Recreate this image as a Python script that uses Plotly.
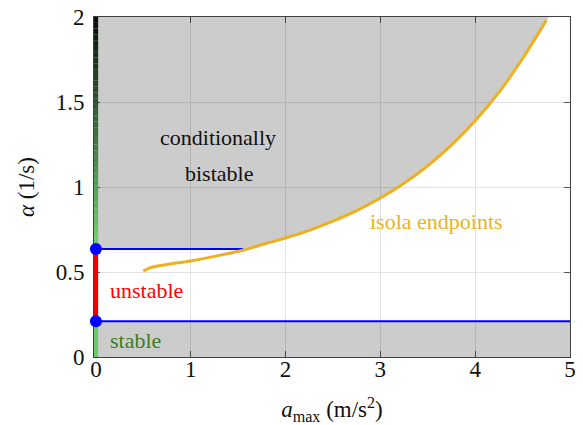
import numpy as np
import plotly.graph_objects as go

# ---- data ----
isola_x = [0.50, 0.55, 0.62, 0.80, 1.00, 1.25, 1.55, 1.80, 2.00, 2.25, 2.50, 2.75,
           3.00, 3.25, 3.50, 3.75, 4.00, 4.25, 4.50, 4.75]
isola_y = [0.505, 0.520, 0.532, 0.548, 0.565, 0.592, 0.628, 0.669, 0.700, 0.745, 0.799, 0.861,
           0.935, 1.022, 1.125, 1.246, 1.389, 1.557, 1.756, 1.980]
bistable_top_x = 4.78          # where the conditionally bistable region meets alpha = 2
alpha_low = 0.21               # stable / unstable boundary
alpha_high = 0.635             # unstable / conditionally bistable boundary
upper_line_end_x = 1.55        # upper blue line end
a_max_range = [-0.02, 5]
alpha_range = [0, 2]
x_ticks = [0, 1, 2, 3, 4, 5]
y_ticks = [0, 0.5, 1, 1.5, 2]
y_tick_labels = ["0", "0.5", "1", "1.5", "2"]

FONT = "Liberation Serif"
GRAY_FILL = "rgba(0,0,0,0.2)"
ORANGE = "#EDB120"
TXT = "#111111"

fig = go.Figure()

# lower stable region fill (gray) below the lower blue line
fig.add_trace(go.Scatter(x=[0, 5], y=[alpha_low, alpha_low],
                         mode="lines", line=dict(width=0), fill="tozeroy",
                         fillcolor=GRAY_FILL, hoverinfo="skip", showlegend=False))

# conditionally bistable region (above upper line, left of isola curve)
ix = np.array(isola_x)
iy = np.array(isola_y)
mask = ix >= upper_line_end_x
fx = [0, upper_line_end_x] + list(ix[mask]) + [bistable_top_x, 0, 0]
fy = [alpha_high, alpha_high] + list(iy[mask]) + [alpha_range[1], alpha_range[1], alpha_high]
fig.add_trace(go.Scatter(x=fx, y=fy, mode="lines", line=dict(width=0), fill="toself",
                         fillcolor=GRAY_FILL, hoverinfo="skip", showlegend=False))

# blue lines
fig.add_trace(go.Scatter(x=[0, 5], y=[alpha_low, alpha_low], mode="lines",
                         line=dict(color="#0000ff", width=2), showlegend=False))
fig.add_trace(go.Scatter(x=[0, upper_line_end_x], y=[alpha_high, alpha_high], mode="lines",
                         line=dict(color="#0000ff", width=2), showlegend=False))

# isola curve
fig.add_trace(go.Scatter(x=isola_x, y=isola_y, mode="lines",
                         line=dict(color=ORANGE, width=3, shape="spline", smoothing=0.8),
                         showlegend=False))

# stability along alpha axis at a_max = 0
fig.add_trace(go.Scatter(x=[0, 0], y=[0, alpha_low], mode="lines",
                         line=dict(color="#6cc86c", width=4.5), showlegend=False))
fig.add_trace(go.Scatter(x=[0, 0], y=[alpha_low, alpha_high], mode="lines",
                         line=dict(color="#ee0000", width=4.5), showlegend=False))
# green-to-black gradient rendering of the upper part
n_seg = 40
edges = np.linspace(alpha_high, alpha_range[1], n_seg + 1)
c0 = np.array([115, 210, 115])
c1 = np.array([10, 14, 10])
for i in range(n_seg):
    t = i / (n_seg - 1)
    c = (c0 * (1 - t) + c1 * t).astype(int)
    fig.add_trace(go.Scatter(x=[0, 0], y=[edges[i], edges[i + 1]], mode="lines",
                             line=dict(color=f"rgb({c[0]},{c[1]},{c[2]})", width=4.5),
                             hoverinfo="skip", showlegend=False))

# blue markers
fig.add_trace(go.Scatter(x=[0, 0], y=[alpha_low, alpha_high], mode="markers",
                         marker=dict(color="#0000ff", size=12), cliponaxis=False,
                         showlegend=False))

annotations = [
    dict(x=1.29, y=1.29, text="conditionally", font=dict(color=TXT, size=22)),
    dict(x=1.30, y=1.08, text="bistable", font=dict(color=TXT, size=22)),
    dict(x=0.13, y=0.39, text="unstable", xanchor="left", font=dict(color="#ff0000", size=22)),
    dict(x=0.13, y=0.10, text="stable", xanchor="left", font=dict(color="#3d7d1e", size=22)),
    dict(x=2.87, y=0.80, text="isola endpoints", xanchor="left", font=dict(color=ORANGE, size=22)),
]
for a in annotations:
    a.update(xref="x", yref="y", showarrow=False)
    a["font"]["family"] = FONT

axis_common = dict(showgrid=True, gridcolor="#e2e2e2", gridwidth=1, automargin=False,
                   showline=True, linecolor="#404040", linewidth=1, mirror="ticks",
                   ticks="inside", ticklen=6, tickcolor="#555555", layer="below traces",
                   ticklabeloverflow="allow",
                   zeroline=False, tickfont=dict(family=FONT, size=23, color=TXT))

fig.update_layout(
    width=583, height=425,
    margin=dict(l=86, r=21, t=9, b=76),
    paper_bgcolor="white", plot_bgcolor="white",
    annotations=annotations,
    xaxis=dict(range=a_max_range, tickvals=x_ticks, **axis_common, ticklabelstandoff=-9,
               title=dict(text="<i>a</i><sub>max</sub> (m/s<sup>2</sup>)",
                          font=dict(family=FONT, size=23, color=TXT), standoff=20)),
    yaxis=dict(range=alpha_range, tickvals=y_ticks, ticktext=y_tick_labels, **axis_common,
               ticklabelstandoff=4,
               title=dict(text="<i>α</i> (1/s)",
                          font=dict(family=FONT, size=23, color=TXT), standoff=14)),
)

fig.write_html("out.html")
